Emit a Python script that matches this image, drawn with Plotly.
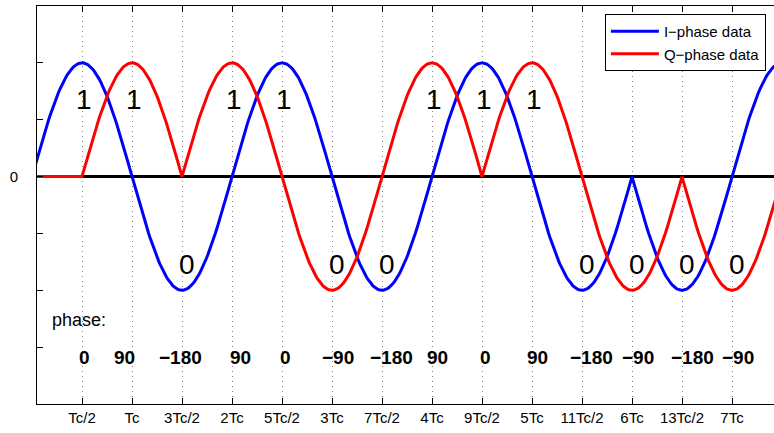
import numpy as np
import plotly.graph_objects as go

# Chip stream: one bit every Tc/2; odd positions feed the I arm, even ones the Q arm
bits = [1, 1, 0, 1, 1, 0, 0, 1, 1, 1, 0, 0, 0, 0, 1]
# number of labelled chips (the last bit only shows as the rising I edge)
n_labelled = 14
phase_labels = ["0", "90", "−180", "90", "0", "−90", "−180",
                "90", "0", "90", "−180", "−90", "−180", "−90"]
tick_text = ["Tc/2", "Tc", "3Tc/2", "2Tc", "5Tc/2", "3Tc", "7Tc/2",
             "4Tc", "9Tc/2", "5Tc", "11Tc/2", "6Tc", "13Tc/2", "7Tc"]

# horizontal nudges (px) for the phase captions
phase_nudge = [2.5, -8, -2, 8, 3, 6, 9, 5, 3, 5, 9, 6, 10, 6]

FONT = "Liberation Sans, Arial, Helvetica, sans-serif"


def half_sine(center, sign, n=80):
    """Half-sinusoid pulse of width Tc centred on `center` (time in Tc)."""
    t = np.linspace(center - 0.5, center + 0.5, n)
    return t, sign * np.cos(np.pi * (t - center))


# build the I (odd chips) and Q (even chips) waveforms
i_t, i_y = [], []
q_t, q_y = [0.0, 0.5], [0.0, 0.0]
for k, b in enumerate(bits, start=1):
    t, y = half_sine(0.5 * k, 1 if b else -1)
    if k % 2:
        i_t.extend(t); i_y.extend(y)
    else:
        q_t.extend(t); q_y.extend(y)

fig = go.Figure()
fig.add_trace(go.Scatter(x=[0, 8], y=[0, 0], mode="lines",
                         line=dict(color="black", width=3),
                         showlegend=False, hoverinfo="skip"))
fig.add_trace(go.Scatter(x=i_t, y=i_y, mode="lines", name="I−phase data",
                         line=dict(color="#0000ff", width=3)))
fig.add_trace(go.Scatter(x=q_t, y=q_y, mode="lines", name="Q−phase data",
                         line=dict(color="#ff0000", width=3)))

annotations = []
# bit values at each pulse peak
for k in range(1, n_labelled + 1):
    b = bits[k - 1]
    annotations.append(dict(
        x=0.5 * k, y=0.68 if b else -0.77, text=str(b), showarrow=False,
        xanchor="center", yanchor="middle", xshift=2 if b else 5,
        font=dict(family=FONT, size=28, color="black")))

# phase captions
annotations.append(dict(
    x=0.18, y=-1.26, text="phase:", showarrow=False, xanchor="left",
    yanchor="middle", font=dict(family=FONT, size=18, color="black")))
for k, (p, dx) in enumerate(zip(phase_labels, phase_nudge), start=1):
    annotations.append(dict(
        x=0.5 * k, y=-1.59, text=f"<b>{p}</b>", showarrow=False,
        xanchor="center", yanchor="middle", xshift=dx,
        font=dict(family=FONT, size=19, color="black")))

y_ticks = [-2, -1.5, -1, -0.5, 0, 0.5, 1, 1.5]

fig.update_layout(
    width=774, height=433,
    margin=dict(l=37, r=0, t=6, b=29),
    paper_bgcolor="white", plot_bgcolor="white",
    font=dict(family=FONT, size=15, color="black"),
    annotations=annotations,
    legend=dict(x=0.989, y=0.98, xanchor="right", yanchor="top",
                bgcolor="white", bordercolor="black", borderwidth=1,
                font=dict(family=FONT, size=15, color="black"),
                itemwidth=48),
    xaxis=dict(range=[0.05, 7.42],
               tickvals=[0.5 * k for k in range(1, 15)], ticktext=tick_text,
               ticks="inside", ticklen=6, tickcolor="black", tickwidth=1,
               showline=True, linecolor="black", linewidth=1, mirror="ticks",
               showgrid=True, gridcolor="#808080", gridwidth=1,
               griddash="1px,4px", zeroline=False,
               tickfont=dict(family=FONT, size=15, color="black")),
    yaxis=dict(range=[-2, 1.5], tickvals=y_ticks,
               ticktext=["0" if v == 0 else "" for v in y_ticks],
               ticks="inside", ticklen=6, tickcolor="black", tickwidth=1,
               showline=True, linecolor="black", linewidth=1, mirror=False,
               showgrid=False, zeroline=False, ticklabelstandoff=15,
               tickfont=dict(family=FONT, size=15, color="black")),
)

fig.write_html("out.html")
